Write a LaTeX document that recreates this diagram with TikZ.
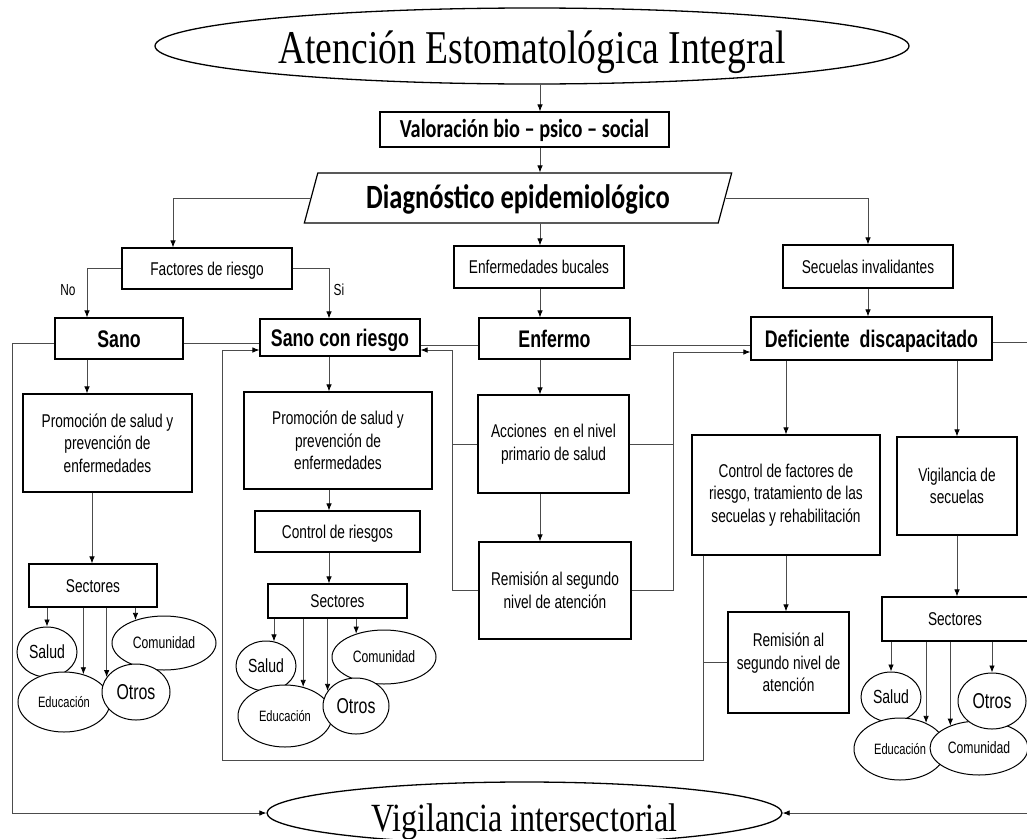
\documentclass[tikz,border=0pt]{standalone}
\usepackage{fontspec}
\usetikzlibrary{shapes.geometric,arrows.meta,calc}
\newfontfamily\bodyfont[FakeStretch=0.74]{Liberation Sans}
\newfontfamily\titlefont[FakeStretch=0.80]{Liberation Serif}
\newfontfamily\calfont[FakeStretch=0.78]{Carlito}
\begin{document}
\begin{tikzpicture}[x=1pt,y=-1pt,
  box/.style={rectangle, draw=black, line width=1.2pt, inner sep=0pt, align=center,
    font=\bodyfont\fontsize{18.5}{22.7}\selectfont},
  sbox/.style={box, text height=13.3pt, text depth=0pt},
  hbox/.style={box, font=\bodyfont\bfseries\fontsize{24}{28}\selectfont, text height=17.2pt, text depth=0pt},
  ell/.style={ellipse, draw=black, line width=1pt, fill=white, inner sep=0pt},
  conn/.style={draw=black!70, line width=0.8pt},
  arr/.style={conn, -{Latex[length=7pt,width=5.5pt,color=black]}},
  lbl/.style={font=\bodyfont\fontsize{16}{18}\selectfont, inner sep=0pt}
]
\useasboundingbox (0,0) rectangle (1027,838);
\fill[white] (0,0) rectangle (1027,838);

% helper coordinates
\coordinate (colA) at (87,0);
\coordinate (colP) at (92,0);
\coordinate (colB) at (329,0);
\coordinate (colC) at (540,0);
\coordinate (xFL) at (173,0);
\coordinate (xL) at (452,350);
\coordinate (xR) at (673,352);
\coordinate (loopBR) at (703,760);
\coordinate (loopBL) at (222,760);
\coordinate (xW) at (12,813);
\coordinate (xE) at (1031,813);

% title and top chain
\node[ellipse, draw=black, line width=1.3pt, minimum width=754pt, minimum height=76pt, inner sep=0pt,
  font=\titlefont\fontsize{47}{50}\selectfont, text height=34pt, text depth=0pt] (title) at (532,46) {Atención Estomatológica Integral};
\node[sbox, minimum width=289pt, minimum height=35pt, font=\calfont\bfseries\fontsize{26}{30}\selectfont, text height=16.7pt] (valor) at (524.5,129.5) {Valoración bio – psico – social};
\node[trapezium, trapezium left angle=65, trapezium right angle=115, trapezium stretches=true,
  draw=black, line width=1.2pt, minimum width=428pt, minimum height=50pt, inner sep=0pt,
  font=\calfont\bfseries\fontsize{34}{40}\selectfont, text height=21.9pt, text depth=0pt] (diag) at (518,198) {Diagnóstico epidemiológico};

% second row
\node[sbox, minimum width=170pt, minimum height=41pt] (factores) at (207,268.5) {Factores de riesgo};
\node[sbox, minimum width=170pt, minimum height=42pt] (enfb) at (539,267) {Enfermedades bucales};
\node[sbox, minimum width=170pt, minimum height=43pt] (secu) at (868,266.5) {Secuelas invalidantes};

% main states
\node[hbox, minimum width=128pt, minimum height=41pt] (sano) at (119,338.5) {Sano};
\node[hbox, minimum width=160pt, minimum height=37pt] (scr) at (340,337.5) {Sano con riesgo};
\node[hbox, minimum width=151pt, minimum height=41pt] (enfermo) at (554.5,338.5) {Enfermo};
\node[hbox, minimum width=241pt, minimum height=43pt] (def) at (871.5,338.5) {Deficiente~ discapacitado};

% actions
\node[box, minimum width=169pt, minimum height=98pt] (promo1) at (107.5,443) {Promoción de salud y\\prevención de\\enfermedades};
\node[box, minimum width=188pt, minimum height=97pt] (promo2) at (338,440.5) {Promoción de salud y\\prevención de\\enfermedades};
\node[sbox, minimum width=165pt, minimum height=41pt] (ctrlr) at (337.5,531.5) {Control de riesgos};
\node[box, minimum width=151pt, minimum height=98pt] (acc) at (553.5,444) {Acciones~ en el nivel\\primario de salud};
\node[box, minimum width=152pt, minimum height=97pt] (rem1) at (555,590.5) {Remisión al segundo\\nivel de atención};
\node[box, minimum width=188pt, minimum height=120pt] (ctrl) at (786,495) {Control de factores de\\riesgo, tratamiento de las\\secuelas y rehabilitación};
\node[box, minimum width=120pt, minimum height=98pt] (vigsec) at (957,486) {Vigilancia de\\secuelas};
\node[box, minimum width=121pt, minimum height=101pt] (rem2) at (788.5,662.5) {Remisión al\\segundo nivel de\\atención};

% sectores boxes
\node[sbox, minimum width=128pt, minimum height=43pt] (sec1) at (93,585.5) {Sectores};
\node[sbox, minimum width=139pt, minimum height=34pt] (sec2) at (337.5,601) {Sectores};
\node[sbox, minimum width=146pt, minimum height=44pt] (sec3) at (955,619) {Sectores};

% ellipses left group
\node[ell, minimum width=60pt, minimum height=50pt, font=\bodyfont\fontsize{19}{21}\selectfont] (salud1) at (47,652) {Salud};
\node[ell, minimum width=104pt, minimum height=54pt, font=\bodyfont\fontsize{16.5}{19}\selectfont] (comun1) at (164,643) {Comunidad};
\node[ell, minimum width=92pt, minimum height=60pt, font=\bodyfont\fontsize{15}{17}\selectfont] (educ1) at (64,702) {Educación};
\node[ell, minimum width=68pt, minimum height=56pt, font=\bodyfont\fontsize{21.5}{24}\selectfont] (otros1) at (136,692) {Otros};

% ellipses middle group
\node[ell, minimum width=60pt, minimum height=50pt, font=\bodyfont\fontsize{19}{21}\selectfont] (salud2) at (266,666) {Salud};
\node[ell, minimum width=104pt, minimum height=54pt, font=\bodyfont\fontsize{16.5}{19}\selectfont] (comun2) at (384,657) {Comunidad};
\node[ell, minimum width=94pt, minimum height=62pt, font=\bodyfont\fontsize{15}{17}\selectfont] (educ2) at (285,716) {Educación};
\node[ell, minimum width=66pt, minimum height=56pt, font=\bodyfont\fontsize{21.5}{24}\selectfont] (otros2) at (356,706) {Otros};

% ellipses right group
\node[ell, minimum width=60pt, minimum height=50pt, font=\bodyfont\fontsize{19}{21}\selectfont] (salud3) at (891,697) {Salud};
\node[ell, minimum width=92pt, minimum height=62pt, font=\bodyfont\fontsize{15}{17}\selectfont] (educ3) at (900,749) {Educación};
\node[ell, minimum width=98pt, minimum height=54pt, font=\bodyfont\fontsize{16.5}{19}\selectfont] (comun3) at (979,748) {Comunidad};
\node[ell, minimum width=68pt, minimum height=56pt, font=\bodyfont\fontsize{21.5}{24}\selectfont] (otros3) at (992,701) {Otros};

% bottom ellipse
\node[ellipse, draw=black, line width=1.3pt, minimum width=515pt, minimum height=62pt, inner sep=0pt,
  font=\titlefont\fontsize{40}{44}\selectfont, text height=36.5pt, text depth=0pt] (vig) at (524.5,813) {Vigilancia intersectorial};

% labels
\node[lbl] (no) at (68,290) {No};
\node[lbl] (si) at (339,290) {Si};

% connectors: top chain
\draw[arr] (title.south -| colC) -- (valor.north -| colC);
\draw[arr] (valor.south -| colC) -- (diag.north -| colC);
\draw[arr] (diag.south -| colC) -- (enfb.north -| colC);
\draw[arr] (enfb.south -| colC) -- (enfermo.north -| colC);
\draw[arr] (enfermo.south -| colC) -- (acc.north -| colC);
\draw[arr] (acc.south -| colC) -- (rem1.north -| colC);
\draw[arr] (diag.left side) -| (factores.north -| xFL);
\draw[arr] (diag.right side) -| (secu.north);
\draw[arr] (secu.south) -- (secu.south |- def.north);
\draw[arr] (factores.west) -| (sano.north -| colA);
\draw[arr] (factores.east) -| (scr.north -| colB);

% left column
\draw[arr] (sano.south -| colA) -- (promo1.north -| colA);
\draw[arr] (promo1.south -| colP) -- (sec1.north -| colP);
\draw[arr] (sec1.south -| salud1.north) -- (salud1.north);
\draw[arr] (sec1.south -| educ1.55) -- (educ1.55);
\draw[arr] (sec1.south -| otros1.153) -- (otros1.153);
\draw[arr] (sec1.south -| comun1.141) -- (comun1.141);

% second column
\draw[arr] (scr.south -| colB) -- (promo2.north -| colB);
\draw[arr] (promo2.south -| colB) -- (ctrlr.north -| colB);
\draw[arr] (ctrlr.south -| colB) -- (sec2.north -| colB);
\draw[arr] (sec2.south -| salud2.72) -- (salud2.72);
\draw[arr] (sec2.south -| educ2.58) -- (educ2.58);
\draw[arr] (sec2.south -| otros2.152) -- (otros2.152);
\draw[arr] (sec2.south -| comun2.140) -- (comun2.140);

% right column
\draw[arr] (def.south -| ctrl.north) -- (ctrl.north);
\draw[arr] (def.south -| vigsec.north) -- (vigsec.north);
\draw[arr] (ctrl.south) -- (ctrl.south |- rem2.north);
\draw[arr] (vigsec.south) -- (vigsec.south |- sec3.north);
\draw[arr] (sec3.south -| salud3.north) -- (salud3.north);
\draw[arr] (sec3.south -| educ3.45) -- (educ3.45);
\draw[arr] (sec3.south -| comun3.142) -- (comun3.142);
\draw[arr] (sec3.south -| otros3.north) -- (otros3.north);

% horizontal links between states
\draw[conn] ([yshift=-4.5pt]sano.east) -- ([yshift=-4.5pt]sano.east -| scr.west);
\draw[conn] ([yshift=-6.5pt]enfermo.west) -- ([yshift=-6.5pt]enfermo.west -| scr.east);
\draw[conn] ([yshift=-6.5pt]enfermo.east) -- ([yshift=-6.5pt]enfermo.east -| def.west);

% feedback from Enfermo column
\draw[arr] (rem1.west) -| (xL) -- (xL -| scr.east);
\draw[conn] (acc.west) -- (acc.west -| xL);
\draw[arr] (rem1.east) -| (xR) -- (xR -| def.west);
\draw[conn] (acc.east) -- (acc.east -| xR);

% big loop back to Sano con riesgo
\draw[arr] (ctrl.south -| loopBR) -- (loopBR) -- (loopBL) |- ([yshift=-12.5pt]scr.west);
\draw[conn] (rem2.west) -- (rem2.west -| loopBR);

% to Vigilancia intersectorial
\draw[arr] ([yshift=-4.5pt]sano.west) -| (xW) -- (vig.west);
\draw[arr] ([yshift=-3.5pt]def.east) -| (xE) -- (vig.east);
\end{tikzpicture}
\end{document}
